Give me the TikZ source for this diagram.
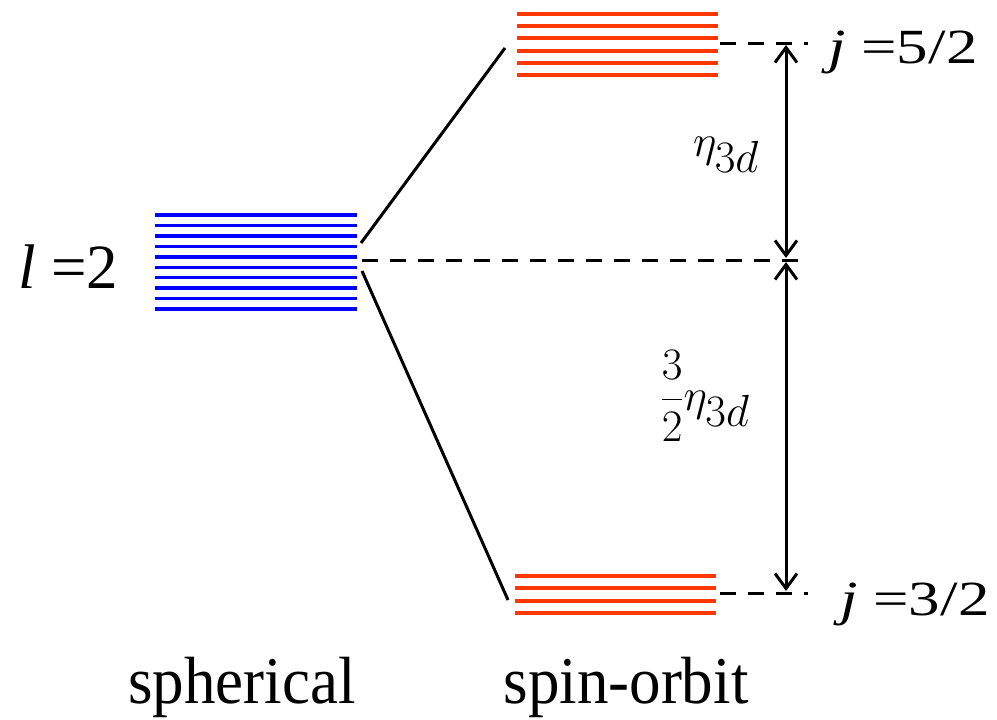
\RequirePackage{fix-cm}
\documentclass[tikz,border=0pt]{standalone}
\usepackage{fontspec}
\setmainfont{Liberation Serif}
\usetikzlibrary{arrows.meta}
\definecolor{lvblue}{RGB}{0,0,255}
\definecolor{lvred}{RGB}{255,55,0}
\begin{document}
\begin{tikzpicture}[x=1pt,y=-1pt,
  bluelvl/.style={lvblue,line width=3.5pt},
  redlvl/.style={lvred,line width=4pt},
  conn/.style={black,line width=3pt},
  dashline/.style={black,line width=3pt,dash pattern=on 16pt off 12pt},
  gaparrow/.style={black,line width=3pt,{Straight Barb[length=15pt,width=22pt]}-{Straight Barb[length=15pt,width=22pt]}},
  bigtext/.style={inner sep=0pt,font=\fontsize{63}{70}\selectfont},
  mathlbl/.style={inner sep=0pt,font=\fontsize{45}{50}\selectfont}]
\useasboundingbox (0,0) rectangle (997,720);
% spherical level (10 lines)
\foreach \i in {0,...,9}
  \draw[bluelvl] (155,{215+\i*10.45}) -- (357,{215+\i*10.45});
% j=5/2 level (6 lines)
\foreach \i in {0,...,5}
  \draw[redlvl] (517,{14+\i*12.2}) -- (718,{14+\i*12.2});
% j=3/2 level (4 lines)
\foreach \i in {0,...,3}
  \draw[redlvl] (515,{576+\i*12.3}) -- (716,{576+\i*12.3});
% connector endpoints
\coordinate (sphUp) at (361,243);
\coordinate (soUp) at (505,48);
\coordinate (sphDn) at (362,271);
\coordinate (soDn) at (508,600);
\coordinate (dTopA) at (720,43);
\coordinate (dTopB) at (808,43);
\coordinate (dMidA) at (362,260);
\coordinate (dMidB) at (800,260);
\coordinate (dBotA) at (720,593);
\coordinate (dBotB) at (808,593);
\coordinate (arTop) at (786,45);
\coordinate (arMidU) at (786,258);
\coordinate (arMidD) at (786,262);
\coordinate (arBot) at (786,591);
\draw[conn] (sphUp) -- (soUp);
\draw[conn] (sphDn) -- (soDn);
\draw[dashline] (dTopA) -- (dTopB);
\draw[dashline] (dMidA) -- (dMidB);
\draw[dashline] (dBotA) -- (dBotB);
\draw[gaparrow] (arTop) -- (arMidU);
\draw[gaparrow] (arMidD) -- (arBot);
% labels
\node[bigtext,anchor=base west] (lbl) at (18,288) {\itshape l\upshape\ =2};
\node[bigtext,anchor=base west] (j52) at (828,63) {\scalebox{1}[0.78]{\itshape j\upshape\ =5/2}};
\node[bigtext,anchor=base west] (j32) at (840,615) {\scalebox{1}[0.78]{\itshape j\upshape\ =3/2}};
\node[bigtext,anchor=base] (sph) at (242,703) {\scalebox{1}[1.06]{spherical}};
\node[bigtext,anchor=base] (so) at (626,703) {\scalebox{1}[1.06]{spin-orbit}};
\node[mathlbl] (eta) at (726,155) {$\eta_{\textstyle 3d}$};
\node[mathlbl] (eta32) at (705,396) {$\displaystyle\frac{3}{2}\eta_{\textstyle 3d}$};
\end{tikzpicture}
\end{document}
